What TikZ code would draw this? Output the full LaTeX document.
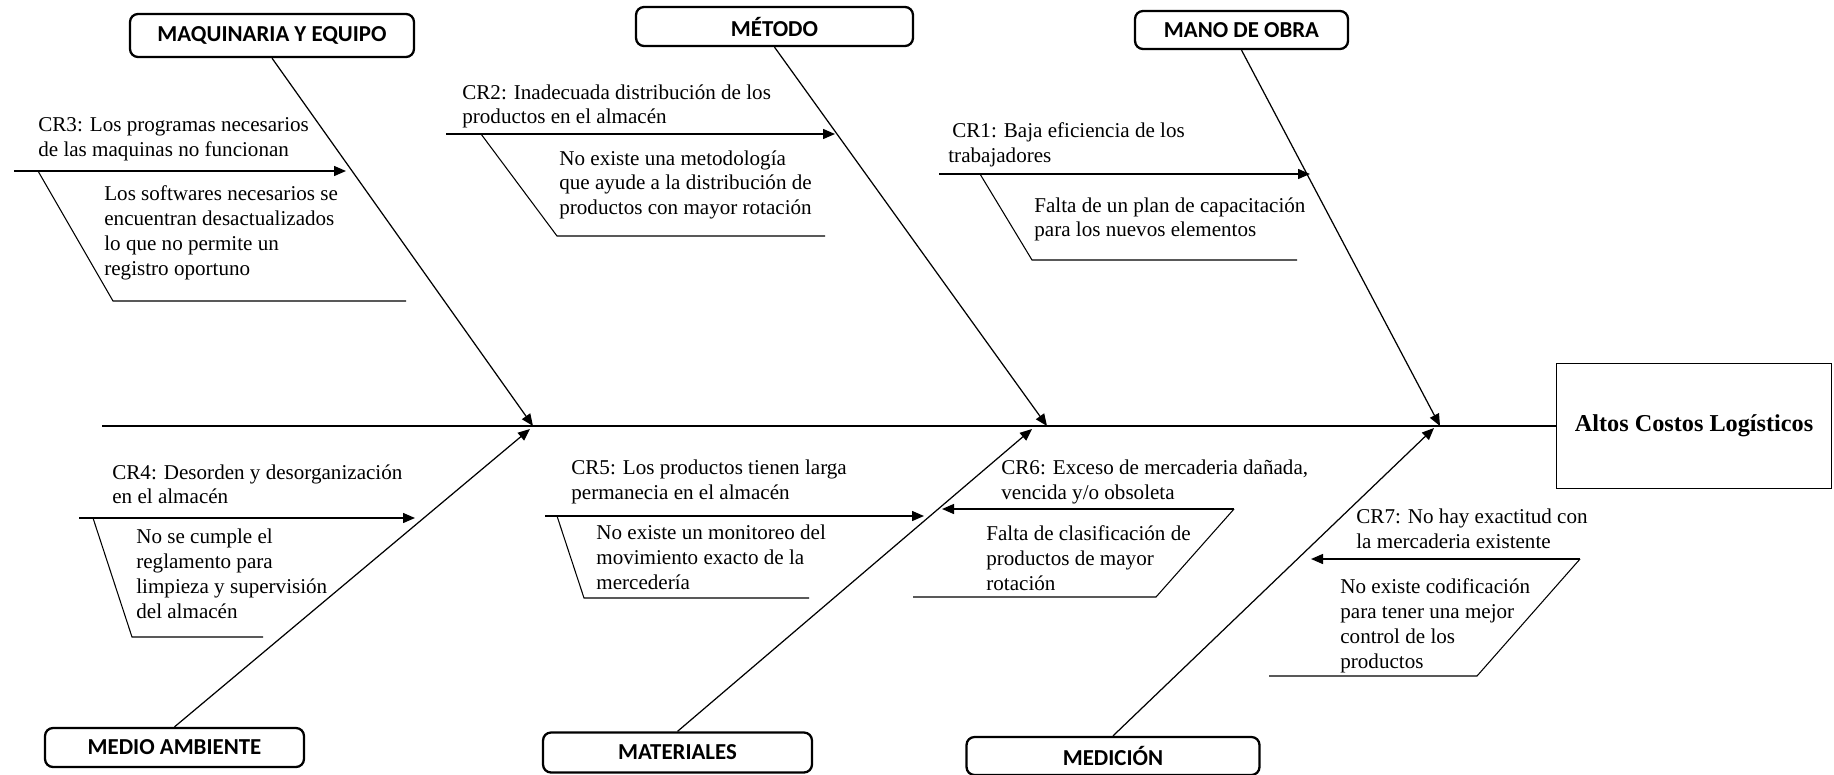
\documentclass[tikz,border=0pt]{standalone}
\usepackage{fontspec}
\setmainfont{Liberation Serif}
\newfontfamily\cajafont{Carlito}
\usepackage{tikz}
\usetikzlibrary{arrows.meta}

\begin{document}
\begin{tikzpicture}[x=0.02cm,y=-0.02cm,
  categoria/.style={draw,line width=1.3pt,rounded corners=0.16cm,inner sep=0pt,font={\cajafont\bfseries\fontsize{13}{15}\selectfont}},
  texto/.style={anchor=north west,align=left,inner sep=0pt,font={\fontsize{12}{14.2}\selectfont}},
  espina/.style={line width=0.7pt,-{Triangle[length=2.4mm,width=2mm]}},
  causa/.style={line width=0.8pt,-{Triangle[length=2.4mm,width=2mm]}},
  marco/.style={line width=0.6pt}]
\useasboundingbox (0,0) rectangle (1834,774);

% efecto y espina central
\node[draw,line width=0.9pt,minimum width=5.5cm,minimum height=2.5cm,font={\bfseries\fontsize{13.8}{16}\selectfont}] (efecto) at (1694,426) {Altos Costos Logísticos};
\coordinate (inicio) at (102,426);
\draw[line width=0.8pt] (inicio) -- (efecto.west);

% categorias
\node[categoria,minimum width=5.68cm,minimum height=0.86cm] (maq) at (272,35.5) {MAQUINARIA Y EQUIPO};
\node[categoria,minimum width=5.54cm,minimum height=0.78cm] (met) at (774.5,26.5) {MÉTODO};
\node[categoria,minimum width=4.26cm,minimum height=0.76cm] (mano) at (1241.5,30) {MANO DE OBRA};
\node[categoria,minimum width=5.18cm,minimum height=0.78cm] (medio) at (174.5,747.5) {MEDIO AMBIENTE};
\node[categoria,minimum width=5.38cm,minimum height=0.8cm] (mat) at (677.5,752.5) {MATERIALES};
\node[categoria,minimum width=5.86cm,minimum height=0.76cm] (med) at (1113,756) {MEDICIÓN};

\coordinate (pmaq) at (533,426);
\coordinate (pmet) at (1047,426);
\coordinate (pmano) at (1440,426);
\coordinate (pmedio) at (530,429);
\coordinate (pmat) at (1032,429);
\coordinate (pmed) at (1434,428);

\draw[espina] (maq.south) -- (pmaq);
\draw[espina] (met.south) -- (pmet);
\draw[espina] (mano.south) -- (pmano);
\draw[espina] (medio.north) -- (pmedio);
\draw[espina] (mat.north) -- (pmat);
\draw[espina] (med.north) -- (pmed);

% maquinaria y equipo
\node[texto] (cr3) at (38,117) {CR3: Los programas necesarios\\de las maquinas no funcionan};
\coordinate (cr3a) at (14,171);
\coordinate (cr3b) at (346,171);
\draw[causa] (cr3a) -- (cr3b);
\draw[marco] (38,171) -- (113,301) -- (406,301);
\node[texto] (cr3s) at (104,185) {Los softwares necesarios se\\encuentran desactualizados\\lo que no permite un\\registro oportuno};

% metodo
\node[texto] (cr2) at (462,84) {CR2: Inadecuada distribución de los\\productos en el almacén};
\coordinate (cr2a) at (446,134);
\coordinate (cr2b) at (835,134);
\draw[causa] (cr2a) -- (cr2b);
\draw[marco] (481,134) -- (557,236) -- (825,236);
\node[texto] (cr2s) at (559,150) {No existe una metodología\\que ayude a la distribución de\\productos con mayor rotación};

% mano de obra
\node[texto] (cr1) at (948,122) {\hspace*{0.08cm}CR1: Baja eficiencia de los\\trabajadores};
\coordinate (cr1a) at (939,174);
\coordinate (cr1b) at (1310,174);
\draw[causa] (cr1a) -- (cr1b);
\draw[marco] (980,174) -- (1032,260) -- (1297,260);
\node[texto] (cr1s) at (1034,197) {Falta de un plan de capacitación\\para los nuevos elementos};

% medio ambiente
\node[texto] (cr4) at (112,464) {CR4: Desorden y desorganización\\en el almacén};
\coordinate (cr4a) at (79,518);
\coordinate (cr4b) at (415,518);
\draw[causa] (cr4a) -- (cr4b);
\draw[marco] (93,518) -- (132,637) -- (263,637);
\node[texto] (cr4s) at (136,529) {No se cumple el\\reglamento para\\limpieza y supervisión\\del almacén};

% materiales
\node[texto] (cr5) at (571,460) {CR5: Los productos tienen larga\\permanecia en el almacén};
\coordinate (cr5a) at (545,516);
\coordinate (cr5b) at (924,516);
\draw[causa] (cr5a) -- (cr5b);
\draw[marco] (557,516) -- (584,598) -- (809,598);
\node[texto] (cr5s) at (596,525) {No existe un monitoreo del\\movimiento exacto de la\\mercedería};

\node[texto] (cr6) at (1001,460) {CR6: Exceso de mercaderia dañada,\\vencida y/o obsoleta};
\coordinate (cr6a) at (1234,509);
\coordinate (cr6b) at (942,509);
\draw[causa] (cr6a) -- (cr6b);
\draw[marco] (cr6a) -- (1156,597) -- (913,597);
\node[texto] (cr6s) at (986,525) {Falta de clasificación de\\productos de mayor\\rotación};

% medicion
\node[texto] (cr7) at (1356,509) {CR7: No hay exactitud con\\la mercaderia existente};
\coordinate (cr7a) at (1580,559);
\coordinate (cr7b) at (1311,559);
\draw[causa] (cr7a) -- (cr7b);
\draw[marco] (cr7a) -- (1477,676) -- (1269,676);
\node[texto] (cr7s) at (1340,578) {No existe codificación\\para tener una mejor\\control de los\\productos};
\end{tikzpicture}
\end{document}
